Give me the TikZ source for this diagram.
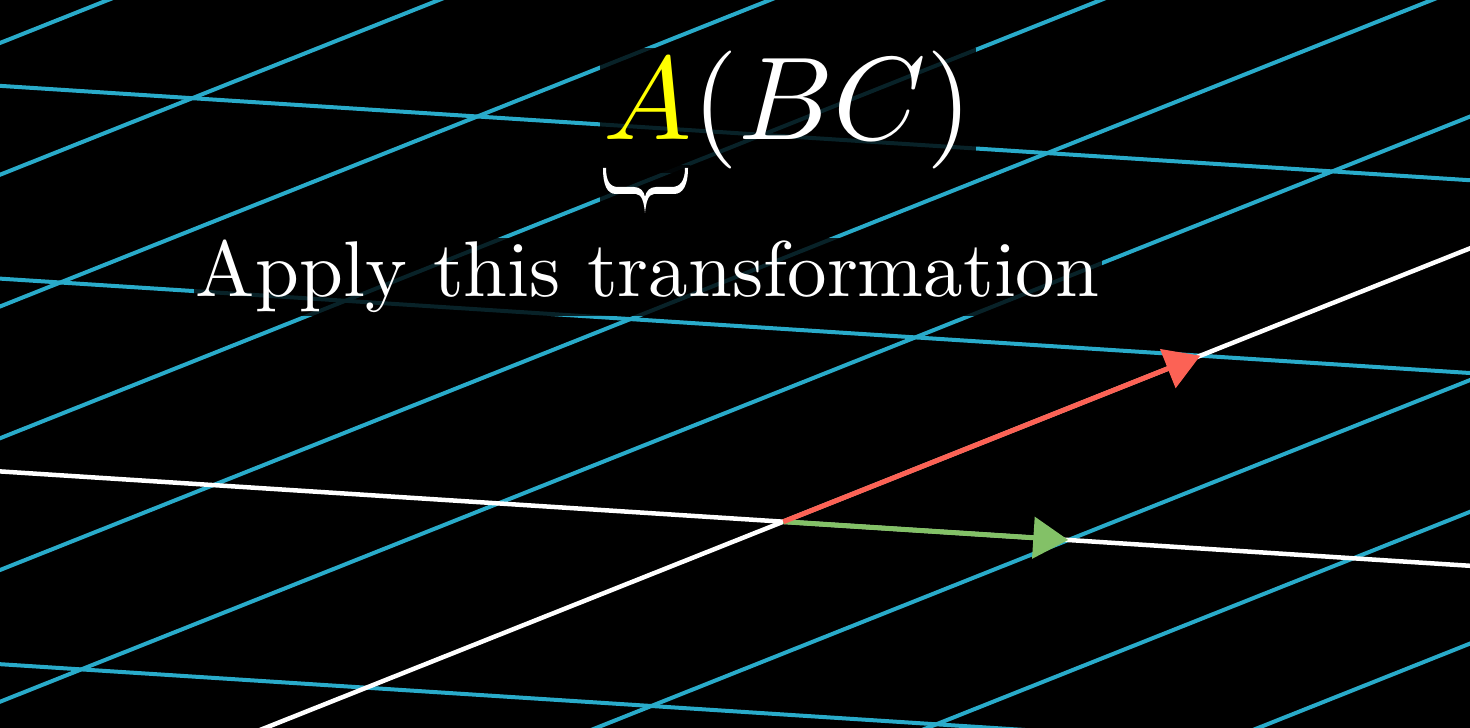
\documentclass[tikz,border=0pt]{standalone}
\usepackage{xcolor}
\usetikzlibrary{arrows.meta}
\definecolor{gridblue}{HTML}{29ABCA}
\definecolor{vecred}{HTML}{FC6255}
\definecolor{vecgreen}{HTML}{83C167}
\definecolor{ayellow}{HTML}{FFFF00}
\begin{document}
\begin{tikzpicture}[x=1pt,y=1pt,
  gridline/.style={gridblue, line width=4pt},
  axisline/.style={white, line width=4.5pt},
  vecarrow/.style={line width=5pt, -{Triangle[length=35pt,width=41pt]}},
  txtbox/.style={fill=black, fill opacity=0.8, text opacity=1, text=white, inner sep=0.3pt},
  maskbox/.style={fill=black, fill opacity=0.8, inner sep=0pt}]
\fill[black] (0,0) rectangle (1470,728);
\useasboundingbox (0,0) rectangle (1470,728);
\begin{scope}
\clip (0,0) rectangle (1470,728);
\begin{scope}[shift={(783.3pt,206.3pt)}, x={(285pt,-18.3pt)}, y={(417pt,166pt)}]
\foreach \k in {-2,-1,1,2,3} \draw[gridline] (-8,\k) -- (6,\k);
\foreach \m in {-8,...,-1,1,2,3,4,5} \draw[gridline] (\m,-3) -- (\m,4);
\draw[axisline] (-8,0) -- (6,0);
\draw[axisline] (0,-3) -- (0,4);
\coordinate (O) at (0,0);
\coordinate (G) at (1,0);
\coordinate (R) at (0,1);
\end{scope}
\end{scope}
\draw[vecarrow, vecgreen] (O) -- (G);
\draw[vecarrow, vecred] (O) -- (R);
% A(BC)
\node[txtbox, scale=11.8, anchor=base west] (abc) at (598,588) {$\textcolor{ayellow}{A}(BC)$};
% brace under A
\node[maskbox, minimum width=90pt, minimum height=48pt, anchor=north west] (bracebg) at (600,563) {};
\begin{scope}[shift={(603,560)}, yscale=-1]
\fill[white] (0,0) .. controls (0,17) and (4,26) .. (13,26)
  -- (33,26) .. controls (39,26) and (41,35) .. (42,45)
  .. controls (43,35) and (45,26) .. (51,26)
  -- (71,26) .. controls (80,26) and (85,17) .. (85,0)
  -- (82,0) .. controls (82,13) and (77,19) .. (69,19)
  -- (53,19) .. controls (47,19) and (43,23) .. (42,29)
  .. controls (41,23) and (37,19) .. (31,19)
  -- (15,19) .. controls (7,19) and (3,13) .. (3,0) -- cycle;
\end{scope}
\node[txtbox, scale=7.9, anchor=base west] (apply) at (192,431) {Apply this transformation};
\end{tikzpicture}
\end{document}
